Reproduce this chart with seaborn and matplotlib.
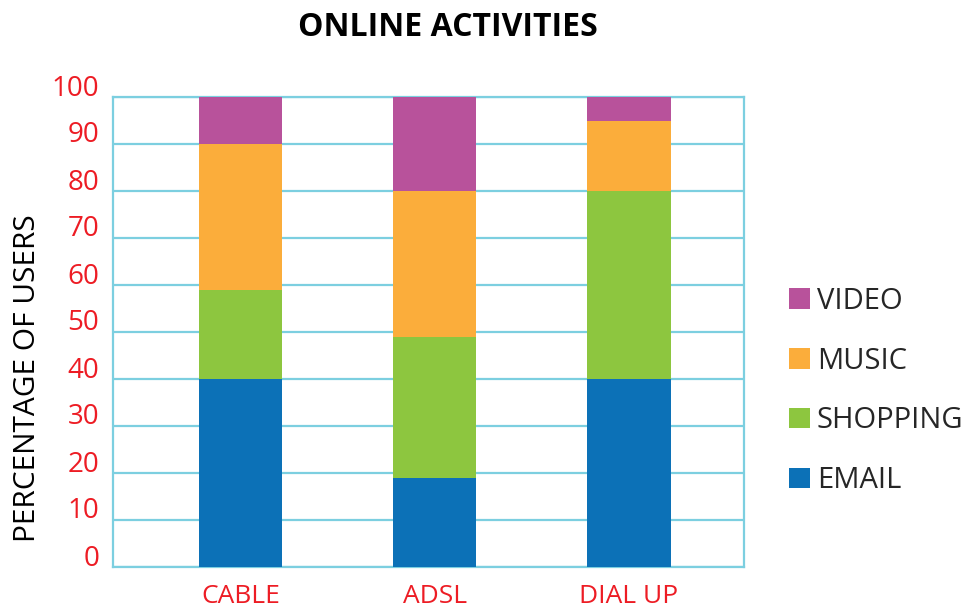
import matplotlib
matplotlib.use("Agg")
import matplotlib.pyplot as plt
import matplotlib.transforms as mtransforms
from matplotlib.patches import Patch
import seaborn as sns
import numpy as np

categories = ["CABLE", "ADSL", "DIAL UP"]
series_names = ["EMAIL", "SHOPPING", "MUSIC", "VIDEO"]
email = [40, 19, 40]
shopping = [19, 30, 40]
music = [31, 31, 15]
video = [10, 20, 5]
y_ticks = [0, 10, 20, 30, 40, 50, 60, 70, 80, 90, 100]

colors = {"EMAIL": "#0c71b7", "SHOPPING": "#8dc63f", "MUSIC": "#fbad3b", "VIDEO": "#b8529b"}
grid_col = "#7ccfe0"
red = "#ed1c24"

sns.set_theme(style="white")
plt.rcParams["font.family"] = ["Open Sans", "DejaVu Sans"]

fig = plt.figure(figsize=(9.79, 6.12), dpi=100)
ax = fig.add_axes([113/979, 45/612, (744-113)/979, (567-97)/612])

layers = [email, shopping, music, video]
cum = np.cumsum(np.array(layers), axis=0)
# draw from the top (largest cumulative) down so each layer overlays
for i in range(len(series_names) - 1, -1, -1):
    sns.barplot(x=categories, y=cum[i], color=colors[series_names[i]], saturation=1,
                width=0.43, ax=ax, linewidth=0, edgecolor="none", zorder=3)

ax.set_xlim(-0.657, 2.593)
ax.set_ylim(0, 100)
ax.set_yticks(y_ticks)
ax.set_yticklabels([str(t) for t in y_ticks])
ax.yaxis.grid(True, color=grid_col, linewidth=1.6)
ax.xaxis.grid(False)
ax.set_axisbelow(True)
for s in ax.spines.values():
    s.set_color(grid_col)
    s.set_linewidth(1.6)
    s.set_visible(True)
ax.tick_params(axis="y", length=0, pad=10, labelsize=20, labelcolor=red)
ax.tick_params(axis="x", length=0, pad=12, labelsize=19, labelcolor=red)
offset = mtransforms.ScaledTranslation(0, 12/100, fig.dpi_scale_trans)
for lab in ax.get_yticklabels():
    lab.set_transform(lab.get_transform() + offset)
ax.set_xlabel("")
ax.set_ylabel("")

fig.text(28/979, 1 - 378/612, "PERCENTAGE OF USERS", rotation=90, ha="center", va="center",
         fontsize=21.5, color="black")
fig.text(448/979, 1 - 27/612, "ONLINE ACTIVITIES", ha="center", va="center",
         fontsize=23, fontweight="bold", color="black")

handles = [Patch(facecolor=colors[n], edgecolor="none", label=n) for n in reversed(series_names)]
fig.legend(handles=handles, loc="center left", bbox_to_anchor=(789/979, 1 - 391/612),
           frameon=False, fontsize=21, handlelength=0.72, handleheight=0.7,
           handletextpad=0.24, labelspacing=1.055, borderpad=0, borderaxespad=0)

fig.savefig("out.png", dpi=100)
